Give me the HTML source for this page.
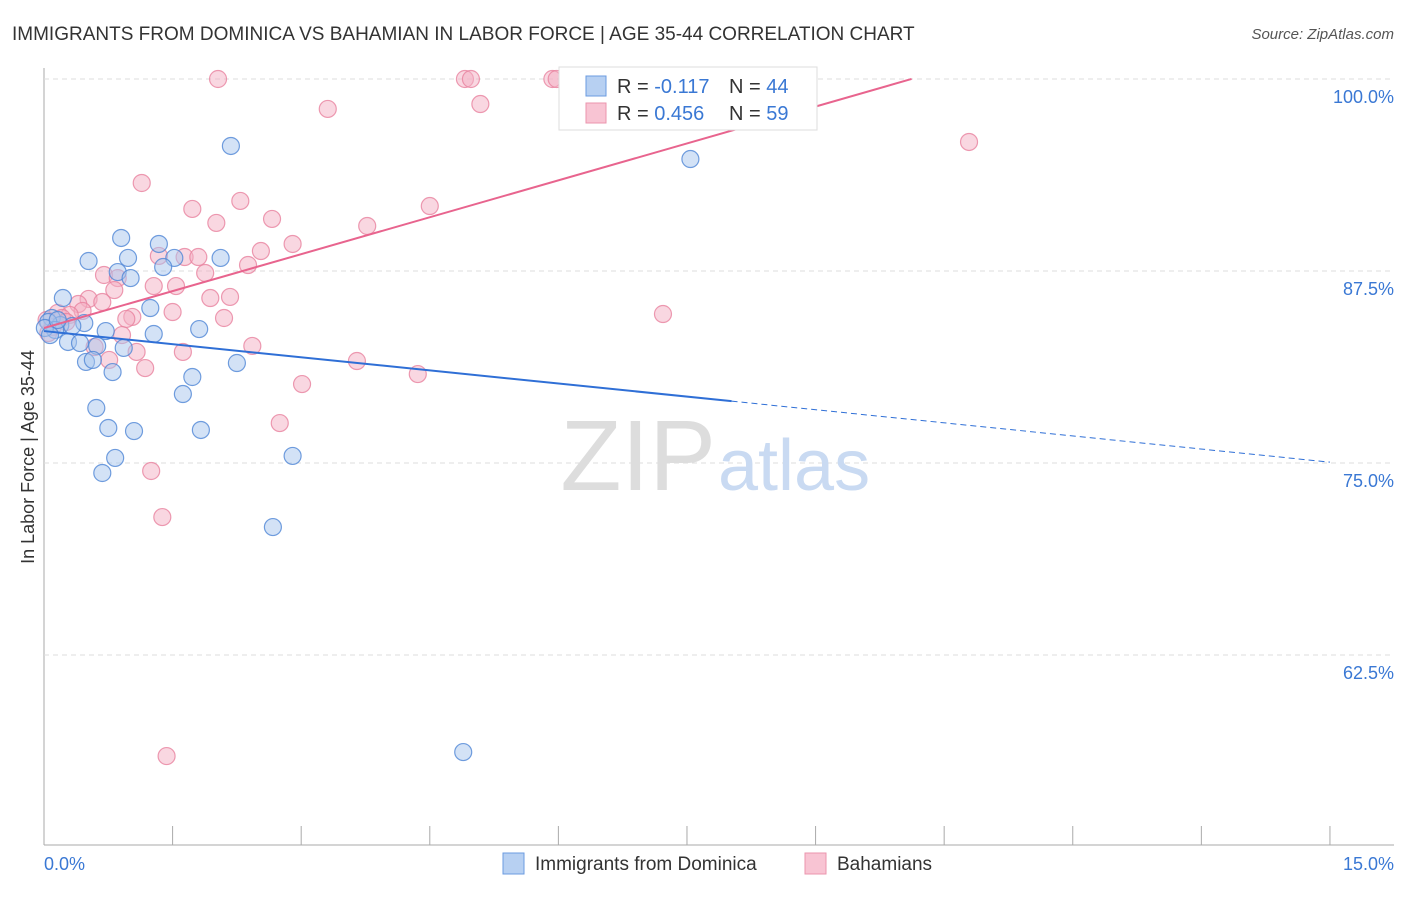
<!DOCTYPE html>
<html><head><meta charset="utf-8"><style>
body{margin:0;background:#fff;font-family:"Liberation Sans",sans-serif;}
svg text{font-family:"Liberation Sans",sans-serif;}
</style></head><body>
<svg width="1406" height="892">
<text x="12" y="40" font-size="19" fill="#333">IMMIGRANTS FROM DOMINICA VS BAHAMIAN IN LABOR FORCE | AGE 35-44 CORRELATION CHART</text>
<text x="1394" y="39" font-size="15" fill="#555" font-style="italic" text-anchor="end">Source: ZipAtlas.com</text>
<g id="grid"></g>
<text x="716" y="490" font-size="100" fill="#ddd" text-anchor="end" font-family="Liberation Serif">ZIP</text>
<text x="718" y="490" font-size="72" fill="#c9daf2">atlas</text>
<g id="marks"></g>
<text transform="translate(34,457) rotate(-90)" font-size="18" fill="#333" text-anchor="middle">In Labor Force | Age 35-44</text>
<text x="44" y="870" font-size="18" fill="#3a78d4">0.0%</text>
<text x="1394" y="870" font-size="18" fill="#3a78d4" text-anchor="end">15.0%</text>
<g>
<rect x="559" y="67" width="258" height="63" fill="#fff" stroke="#ddd"/>
<rect x="586" y="76" width="20" height="20" fill="#b7d0f2" stroke="#6b9be0"/>
<rect x="586" y="103" width="20" height="20" fill="#f8c4d3" stroke="#eb95ae"/>
<text x="617" y="93" font-size="20" fill="#333">R = <tspan fill="#3a78d4">-0.117</tspan></text>
<text x="729" y="93" font-size="20" fill="#333">N = <tspan fill="#3a78d4">44</tspan></text>
<text x="617" y="120" font-size="20" fill="#333">R = <tspan fill="#3a78d4">0.456</tspan></text>
<text x="729" y="120" font-size="20" fill="#333">N = <tspan fill="#3a78d4">59</tspan></text>
</g>
<g>
<rect x="503" y="853" width="21" height="21" fill="#b7d0f2" stroke="#6b9be0"/>
<text x="535" y="870" font-size="19" fill="#333">Immigrants from Dominica</text>
<rect x="805" y="853" width="21" height="21" fill="#f8c4d3" stroke="#eb95ae"/>
<text x="837" y="870" font-size="19" fill="#333">Bahamians</text>
</g>
</svg>
<script>
const yTicks=[100,87.5,75,62.5];
const yTickLabels=["100.0%","87.5%","75.0%","62.5%"];
const xTicks=[0,1.5,3,4.5,6,7.5,9,10.5,12,13.5,15];
const blueX=[2.18,7.54,0.90,1.34,0.98,0.52,1.52,2.06,1.39,0.86,1.01,0.22,1.24,0.09,0.47,0.19,0.72,1.28,1.81,0.28,0.62,0.93,0.42,0.49,0.57,0.80,2.25,1.73,1.62,0.61,0.75,1.05,1.83,0.83,0.68,2.90,2.67,4.89,0.05,0.13,0.01,0.33,0.07,0.16];
const blueY=[95.64,94.79,89.65,89.26,88.35,88.15,88.35,88.35,87.76,87.43,87.04,85.74,85.09,84.44,84.11,83.98,83.59,83.40,83.72,82.88,82.62,82.49,82.81,81.58,81.71,80.92,81.51,80.60,79.49,78.58,77.28,77.08,77.15,75.33,74.35,75.46,70.83,56.18,84.18,83.66,83.79,83.92,83.33,84.31];
const pinkX=[2.03,4.91,4.98,5.93,5.98,5.09,3.31,10.79,1.14,2.29,1.73,4.50,2.01,2.66,3.77,2.90,2.53,1.34,1.64,1.80,2.38,1.88,0.70,0.86,1.54,1.28,0.82,0.52,0.40,1.94,2.17,0.68,0.45,1.50,1.03,0.96,2.10,7.22,0.16,0.30,0.91,2.43,0.59,1.08,1.62,0.76,3.65,1.18,4.36,3.01,2.75,1.25,1.38,1.43,0.03,0.10,0.21,0.05,0.26];
const pinkY=[100,100,100,100,100,98.37,98.05,95.90,93.23,92.06,91.54,91.73,90.63,90.89,90.43,89.26,88.80,88.48,88.41,88.41,87.89,87.37,87.24,87.04,86.52,86.52,86.26,85.68,85.35,85.74,85.81,85.48,84.90,84.83,84.51,84.38,84.44,84.70,84.77,84.64,83.33,82.62,82.55,82.23,82.23,81.71,81.64,81.18,80.79,80.14,77.60,74.48,71.48,55.92,84.31,83.85,84.44,83.46,84.18];
const blueTrend=[83.59,-0.569,8.02];
const pinkTrend=[83.79,1.602,10.12];
const NS="http://www.w3.org/2000/svg";
const sx=v=>44+v*85.73, sy=v=>79+(100-v)*15.36;
function mk(t,a,p){const e=document.createElementNS(NS,t);for(const k in a)e.setAttribute(k,a[k]);p.appendChild(e);return e;}
const g=document.getElementById('grid'), m=document.getElementById('marks');
let ax=mk('line',{x1:44,y1:68,x2:44,y2:845,stroke:'#aaa'},g);


let bx=mk('line',{x1:44,y1:845,x2:1394,y2:845,stroke:'#aaa'},g);


yTicks.forEach((v,i)=>{
 const l=mk('line',{x1:44,y1:sy(v),x2:1394,y2:sy(v),stroke:'#ddd','stroke-dasharray':'5,4'},g);
 
 
 const t=mk('text',{x:1394,y:sy(v)+24,'font-size':18,fill:'#3a78d4','text-anchor':'end'},g);
 t.textContent=yTickLabels[i];
 
 
});
xTicks.forEach(v=>{
 const l=mk('line',{x1:sx(v),y1:826,x2:sx(v),y2:845,stroke:'#aaa'},g);
 
 
});
function pts(X,Y,fill,stroke,name){X.forEach((x,i)=>{
 const c=mk('circle',{cx:sx(x),cy:sy(Y[i]),r:8.5,fill:fill,'fill-opacity':0.5,stroke:stroke,'stroke-opacity':0.8,'stroke-width':1.2},m);
 
 
});}
pts(pinkX,pinkY,'#f4b0c4','#e8829f','bahamian-point');
pts(blueX,blueY,'#a8c6ee','#4f86d6','dominica-point');
let bl=mk('line',{x1:sx(0),y1:sy(blueTrend[0]),x2:sx(blueTrend[2]),y2:sy(blueTrend[0]+blueTrend[1]*blueTrend[2]),stroke:'#2f6fd6','stroke-width':2},m);


let bd=mk('line',{x1:sx(blueTrend[2]),y1:sy(blueTrend[0]+blueTrend[1]*blueTrend[2]),x2:sx(15),y2:sy(blueTrend[0]+blueTrend[1]*15),stroke:'#2f6fd6','stroke-width':1,'stroke-dasharray':'6,4'},m);


let pl=mk('line',{x1:sx(0),y1:sy(pinkTrend[0]),x2:sx(pinkTrend[2]),y2:sy(pinkTrend[0]+pinkTrend[1]*pinkTrend[2]),stroke:'#e8648e','stroke-width':2},m);


</script>
</body></html>
